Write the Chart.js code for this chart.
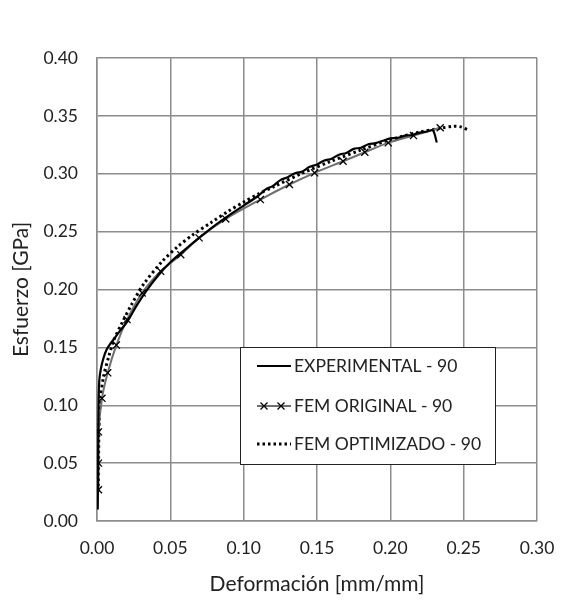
<!DOCTYPE html>
<html><head><meta charset="utf-8">
<script src="https://cdn.jsdelivr.net/npm/chart.js@4.4.0/dist/chart.umd.min.js"></script>
<style>html,body{margin:0;padding:0;background:#fff;}#wrap{width:581px;height:611px;position:relative;}</style>
</head><body><div id="wrap"><canvas id="c" width="581" height="611"></canvas></div>
<script>
const seriesLabels = ["EXPERIMENTAL - 90", "FEM ORIGINAL - 90", "FEM OPTIMIZADO - 90"];
const expX = [0.0005,0.0007,0.0009,0.0011,0.0016,0.0027,0.0045,0.0065,0.009,0.0114,0.0155,0.0205,0.027,0.034,0.042,0.05,0.06,0.07,0.08,0.09,0.10,0.11,0.115,0.12,0.125,0.13,0.135,0.14,0.145,0.15,0.155,0.16,0.165,0.17,0.175,0.18,0.185,0.19,0.195,0.20,0.205,0.21,0.215,0.22,0.225,0.229,0.2317];
const expY = [0.010,0.040,0.075,0.105,0.122,0.132,0.141,0.148,0.153,0.157,0.164,0.172,0.186,0.1995,0.2125,0.2235,0.2345,0.245,0.255,0.264,0.2725,0.281,0.2865,0.2895,0.2945,0.297,0.3005,0.302,0.306,0.308,0.3115,0.313,0.3165,0.318,0.3215,0.3225,0.3255,0.3265,0.3285,0.3305,0.331,0.333,0.3335,0.3355,0.3365,0.3375,0.327];
const origX = [0.001,0.001,0.001,0.0034,0.0073,0.0132,0.0205,0.0308,0.0434,0.0571,0.0696,0.0878,0.1114,0.1312,0.1484,0.1678,0.1826,0.1986,0.2158,0.234];
const origY = [0.027,0.050,0.077,0.106,0.128,0.152,0.174,0.197,0.2157,0.2301,0.2446,0.261,0.2777,0.2907,0.3008,0.3108,0.3186,0.3267,0.333,0.3397];
const optX = [0.001,0.0012,0.0016,0.0023,0.0045,0.008,0.0114,0.017,0.024,0.032,0.045,0.055,0.065,0.078,0.09,0.10,0.11,0.12,0.14,0.16,0.18,0.20,0.22,0.235,0.243,0.248,0.253];
const optY = [0.030,0.070,0.090,0.105,0.125,0.142,0.156,0.171,0.188,0.205,0.225,0.237,0.247,0.258,0.268,0.2755,0.2825,0.2885,0.3005,0.311,0.3205,0.3295,0.336,0.3395,0.341,0.3405,0.338];
const xRange = [0, 0.30, 0.05];
const yRange = [0, 0.40, 0.05];
const xTitle = "Deformación [mm/mm]";
const yTitle = "Esfuerzo [GPa]";

function pts(xs, ys){ return xs.map((x,i)=>({x:x, y:ys[i]})); }
const FONT = "Lato, 'Open Sans', sans-serif";
const TEXT = "#222222";
const GRID = "#8c8c8c";

const legendPlugin = {
  id: 'boxLegend',
  afterDraw(chart){
    const ctx = chart.ctx;
    const x0 = 240, y0 = 347, w = 255, h = 117;
    ctx.save();
    ctx.fillStyle = '#fff';
    ctx.fillRect(x0, y0, w, h);
    ctx.strokeStyle = '#222';
    ctx.lineWidth = 1;
    ctx.strokeRect(x0+0.5, y0+0.5, w, h);
    const rows = [366, 406, 444];
    chart.data.datasets.forEach((ds, i) => {
      const y = rows[i];
      ctx.beginPath();
      ctx.strokeStyle = ds.borderColor;
      ctx.lineWidth = ds.borderWidth;
      ctx.setLineDash(ds.borderDash || []);
      ctx.moveTo(257, y); ctx.lineTo(291, y);
      ctx.stroke();
      ctx.setLineDash([]);
      if (ds.pointStyle === 'crossRot') {
        ctx.strokeStyle = '#000'; ctx.lineWidth = 1.3;
        [264, 281].forEach(cx => {
          ctx.beginPath();
          ctx.moveTo(cx-3.5, y-3.5); ctx.lineTo(cx+3.5, y+3.5);
          ctx.moveTo(cx+3.5, y-3.5); ctx.lineTo(cx-3.5, y+3.5);
          ctx.stroke();
        });
      }
      ctx.fillStyle = TEXT;
      ctx.font = "17.5px " + FONT;
      ctx.textBaseline = 'middle';
      ctx.textAlign = 'left';
      ctx.fillText(ds.label, 294, y);
    });
    ctx.restore();
  }
};

new Chart(document.getElementById('c'), {
  type: 'scatter',
  data: {
    datasets: [
      { label: seriesLabels[0], data: pts(expX, expY), showLine: true, borderColor: '#000', borderWidth: 2.2, pointRadius: 0, tension: 0.3 },
      { label: seriesLabels[1], data: pts(origX, origY), showLine: true, borderColor: '#6f6f6f', borderWidth: 2, pointStyle: 'crossRot', pointRadius: 5, pointBorderColor: '#000', pointBorderWidth: 1.3, pointBackgroundColor: '#000', tension: 0.3 },
      { label: seriesLabels[2], data: pts(optX, optY), showLine: true, borderColor: '#000', borderWidth: 3, borderDash: [2.5, 3], pointRadius: 0, tension: 0.3 }
    ]
  },
  options: {
    responsive: false,
    animation: false,
    layout: { padding: { top: 58, right: 44, left: 0, bottom: 0 } },
    plugins: { legend: { display: false }, tooltip: { enabled: false } },
    scales: {
      x: {
        type: 'linear', min: xRange[0], max: xRange[1],
        ticks: { stepSize: xRange[2], callback: v => v.toFixed(2), color: TEXT, font: { family: FONT, size: 17.5 }, padding: 17 },
        grid: { color: GRID, lineWidth: 1.5, drawTicks: false },
        border: { color: GRID, width: 1.5 },
        title: { display: true, text: xTitle, color: TEXT, font: { family: FONT, size: 21 }, padding: { top: 4, bottom: 14 } },
        afterFit(s){ s.height = 90; }
      },
      y: {
        type: 'linear', min: yRange[0], max: yRange[1],
        ticks: { stepSize: yRange[2], callback: v => v.toFixed(2), color: TEXT, font: { family: FONT, size: 17.5 }, padding: 19 },
        grid: { color: GRID, lineWidth: 1.5, drawTicks: false },
        border: { color: GRID, width: 1.5 },
        title: { display: true, text: yTitle, color: TEXT, font: { family: FONT, size: 21 }, padding: { top: 9, bottom: 4 } },
        afterFit(s){ s.width = 97; }
      }
    }
  },
  plugins: [legendPlugin]
});
</script></body></html>
